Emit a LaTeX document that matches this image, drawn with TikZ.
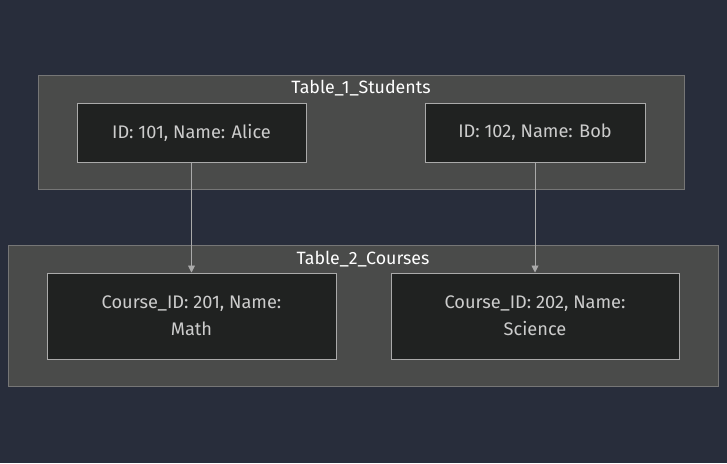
\documentclass[tikz,border=0pt]{standalone}
\usepackage{fontspec}
\setmainfont{Fira Sans}
\usetikzlibrary{arrows.meta}
\definecolor{bgnavy}{RGB}{40,45,59}
\definecolor{clusterfill}{RGB}{74,75,74}
\definecolor{clusterline}{RGB}{118,118,118}
\definecolor{boxfill}{RGB}{32,34,33}
\definecolor{boxline}{RGB}{170,170,170}
\definecolor{boxtext}{RGB}{204,204,204}
\tikzset{
    cluster/.style = {
        draw = clusterline,
        fill = clusterfill,
        line width=0.9pt,
        },
    cluster title/.style = {
        text = white,
        font = \fontsize{17.8}{20}\selectfont,
        },
    entry/.style = {
        draw = boxline,
        fill = boxfill,
        text = boxtext,
        line width=1pt,
        align = center,
        font = \fontsize{18.2}{27}\selectfont,
        },
    link/.style = {
        draw = boxline,
        line width=0.9pt,
        -{Triangle[length=7pt,width=7pt]},
        }
}
\begin{document}
\begin{tikzpicture}[x=1pt,y=-1pt]
            \fill[bgnavy] (0,0) rectangle (727,463);
            \useasboundingbox (0,0) rectangle (727,463);

            \draw[cluster] (38,75) rectangle (684,189);
            \node[cluster title] (t1) at (361,88) {Table\_1\_Students};
            \draw[cluster] (8,245) rectangle (718,386);
            \node[cluster title] (t2) at (363,259) {Table\_2\_Courses};

            \node[entry, minimum width=229pt, minimum height=59pt] (alice) at (191.5,132.5) {ID: 101, Name: Alice};
            \node[entry, minimum width=220pt, minimum height=59pt] (bob) at (535,132.5) {ID: 102, Name: Bob};
            \node[entry, minimum width=289pt, minimum height=86pt] (math) at (191.5,316) {Course\_ID: 201, Name:\\Math};
            \node[entry, minimum width=288pt, minimum height=86pt] (science) at (535,316) {Course\_ID: 202, Name:\\Science};

            \path (alice) edge[link] (math);
            \path (bob) edge[link] (science);
        \end{tikzpicture}
\end{document}
